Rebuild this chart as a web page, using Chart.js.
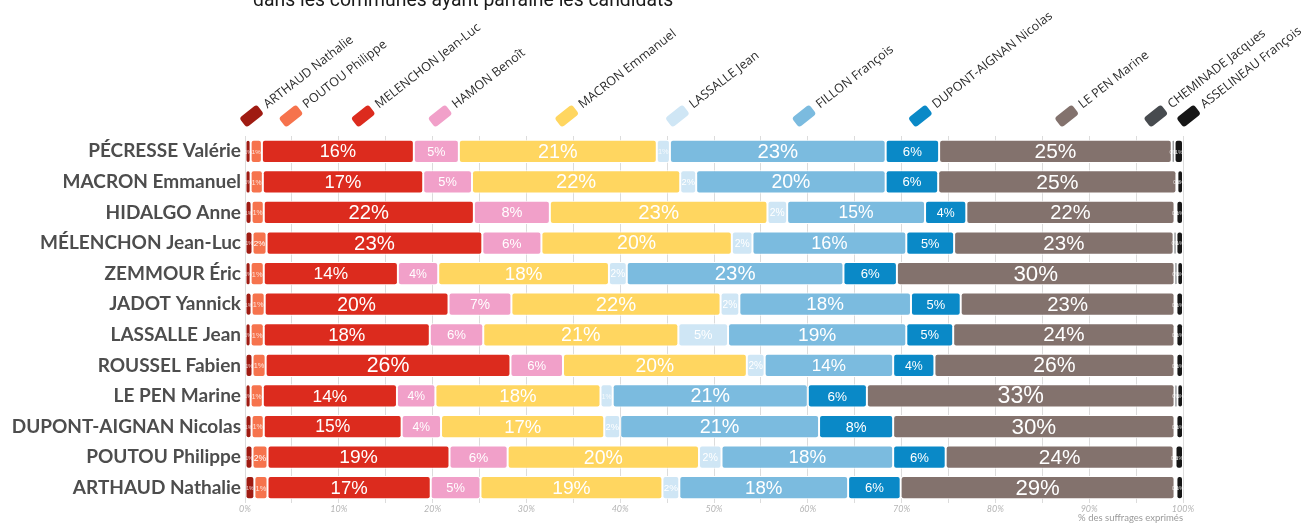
<!DOCTYPE html>
<html lang="fr">
<head>
<meta charset="utf-8">
<title>Vote 2017 dans les communes ayant parrainé les candidats</title>
<script src="https://cdn.jsdelivr.net/npm/chart.js@4.4.1/dist/chart.umd.min.js"></script>
<style>
    html, body { margin: 0; padding: 0; background: #fff; }
    #wrap { position: relative; width: 1305px; height: 524px; overflow: hidden; }
</style>
</head>
<body>
<div id="wrap"><canvas id="parrainages" width="1305" height="524"></canvas></div>
<script>
// ===== DONNÉES =====

// Candidats 2022 parrainés (une ligne par candidat)
const parraines = [
    'PÉCRESSE Valérie', 'MACRON Emmanuel', 'HIDALGO Anne', 'MÉLENCHON Jean-Luc',
    'ZEMMOUR Éric', 'JADOT Yannick', 'LASSALLE Jean', 'ROUSSEL Fabien',
    'LE PEN Marine', 'DUPONT-AIGNAN Nicolas', 'POUTOU Philippe', 'ARTHAUD Nathalie'
];

// Candidats du 1er tour 2017 (une série chacun)
const candidats2017 = [
    'ARTHAUD Nathalie', 'POUTOU Philippe', 'MELENCHON Jean-Luc', 'HAMON Benoît',
    'MACRON Emmanuel', 'LASSALLE Jean', 'FILLON François', 'DUPONT-AIGNAN Nicolas',
    'LE PEN Marine', 'CHEMINADE Jacques', 'ASSELINEAU François'
];

// % des suffrages exprimés, dans l'ordre des lignes ci-dessus
const arthaud     = [0.6, 0.6, 0.7, 0.8, 0.6, 0.7, 0.6, 0.8, 0.6, 0.7, 0.8, 1.0];
const poutou      = [1.2, 1.3, 1.3, 1.5, 1.4, 1.4, 1.4, 1.4, 1.3, 1.3, 1.6, 1.4];
const melenchon   = [16.2, 17.1, 22.4, 23.0, 14.3, 19.6, 17.7, 26.1, 14.3, 14.7, 19.4, 17.4];
const hamon       = [4.8, 5.2, 8.1, 6.3, 4.3, 6.7, 5.7, 5.6, 4.1, 4.2, 6.2, 5.3];
const macron      = [21.1, 22.2, 23.2, 20.3, 18.2, 22.3, 20.8, 19.6, 17.6, 17.4, 20.4, 19.4];
const lassalle    = [1.4, 1.7, 2.1, 2.2, 1.9, 2.0, 5.3, 1.9, 1.3, 1.7, 2.4, 1.8];
const fillon      = [23.0, 20.2, 14.7, 16.4, 23.1, 18.3, 19.0, 13.7, 20.8, 21.2, 18.3, 18.0];
const dupont      = [5.7, 5.6, 4.4, 5.1, 5.7, 5.3, 5.0, 4.4, 6.3, 7.9, 5.6, 5.6];
const lepen       = [24.8, 25.4, 22.2, 23.4, 29.6, 22.8, 23.6, 25.6, 32.8, 30.0, 24.3, 29.2];
const cheminade   = [0.3, 0.1, 0.2, 0.3, 0.3, 0.2, 0.2, 0.2, 0.3, 0.2, 0.2, 0.2];
const asselineau  = [0.9, 0.6, 0.7, 0.7, 0.6, 0.7, 0.7, 0.7, 0.6, 0.7, 0.8, 0.7];

const series = [arthaud, poutou, melenchon, hamon, macron, lassalle,
                fillon, dupont, lepen, cheminade, asselineau];

const couleurs = [
    '#9f1b12', '#f6734d', '#dc2b1e', '#f1a0c9', '#ffd660', '#cfe6f5',
    '#7bbbdf', '#0a89c7', '#83726d', '#474b4f', '#161616'
];

// Emplacement des pastilles de légende, en % de l'axe horizontal
const legendeAt = [0.7, 4.9, 12.6, 20.8, 34.3, 46.1, 59.6, 72.0, 87.6, 97.1, 100.6];

const ticksX = [0, 10, 20, 30, 40, 50, 60, 70, 80, 90, 100];

// ===== PLUGINS =====

// Étiquettes de valeur au centre de chaque segment
const etiquettesSegments = {
    id: 'etiquettesSegments',
    afterDatasetsDraw(chart) {
        const ctx = chart.ctx;
        ctx.save();
        ctx.textAlign = 'center';
        ctx.textBaseline = 'middle';
        chart.data.datasets.forEach((ds, di) => {
            const meta = chart.getDatasetMeta(di);
            meta.data.forEach((bar, i) => {
                const v = ds.data[i];
                const largeur = Math.abs(bar.x - bar.base);
                let taille = Math.min(6 + 3 * Math.sqrt(v), (largeur - 2) / 1.5);
                taille = Math.max(5, taille);
                ctx.font = `${taille.toFixed(1)}px "Liberation Sans", Arial, sans-serif`;
                ctx.fillStyle = taille < 8 ? 'rgba(255,255,255,0.8)' : '#fff';
                ctx.fillText(Math.round(v) + '%', (bar.x + bar.base) / 2, bar.y + 1);
            });
        });
        ctx.restore();
    }
};

// Titre et légende inclinée au-dessus du graphique
const enTete = {
    id: 'enTete',
    afterDraw(chart) {
        const ctx = chart.ctx;
        const x = chart.scales.x;
        ctx.save();

        ctx.fillStyle = '#1a1a1a';
        ctx.font = '19.4px Roboto, sans-serif';
        ctx.textAlign = 'left';
        ctx.textBaseline = 'alphabetic';
        ctx.fillText('dans les communes ayant parrainé les candidats', 253, 6);

        const angle = -38 * Math.PI / 180;
        candidats2017.forEach((nom, i) => {
            ctx.save();
            ctx.translate(x.getPixelForValue(legendeAt[i]), 116);
            ctx.rotate(angle);
            ctx.fillStyle = couleurs[i];
            ctx.beginPath();
            ctx.roundRect(-11, -6, 22, 12, 3);
            ctx.fill();
            ctx.fillStyle = '#2b2b2b';
            ctx.font = '12.5px "Open Sans", sans-serif';
            ctx.fillText(nom, 17, 4);
            ctx.restore();
        });
        ctx.restore();
    }
};

// ===== GRAPHIQUE =====

const rayon = { topLeft: 3, topRight: 3, bottomLeft: 3, bottomRight: 3 };

new Chart(document.getElementById('parrainages'), {
    type: 'bar',
    data: {
        labels: parraines,
        datasets: series.map((data, i) => ({
            label: candidats2017[i],
            data: data,
            backgroundColor: couleurs[i],
            borderColor: '#ffffff',
            borderWidth: 1,
            borderRadius: rayon,
            borderSkipped: false,
            barPercentage: 0.76,
            categoryPercentage: 1
        }))
    },
    options: {
        indexAxis: 'y',
        responsive: false,
        devicePixelRatio: 1,
        animation: false,
        layout: { padding: { top: 136, right: 122, left: 0, bottom: 0 } },
        plugins: {
            legend: { display: false },
            tooltip: { enabled: false }
        },
        scales: {
            x: {
                stacked: true,
                min: 0,
                max: 100,
                afterBuildTicks: (scale) => {
                    // grille tous les 5 %, libellés tous les 10 %
                    const t = [];
                    for (let v = 0; v <= 100; v += 5) t.push({ value: v });
                    scale.ticks = t;
                },
                afterFit: (scale) => { scale.height = 21; },
                ticks: {
                    autoSkip: false,
                    maxRotation: 0,
                    padding: 1,
                    color: '#b5b5b5',
                    font: { family: 'Lato', style: 'italic', size: 9 },
                    callback: (v) => ticksX.includes(v) ? v + '%' : ''
                },
                grid: { color: '#dcdcdc', drawTicks: false },
                border: { display: false },
                title: {
                    display: true,
                    text: '% des suffrages exprimés',
                    align: 'end',
                    color: '#9a9a9a',
                    font: { family: 'Lato', size: 9.5 },
                    padding: 0
                }
            },
            y: {
                stacked: true,
                afterFit: (scale) => { scale.width = 245; },
                ticks: {
                    autoSkip: false,
                    padding: 4,
                    color: '#4d4d4d',
                    font: { family: 'Lato', weight: 'bold', size: 19 }
                },
                grid: { display: false, drawTicks: false },
                border: { display: false }
            }
        }
    },
    plugins: [etiquettesSegments, enTete]
});
</script>
</body>
</html>
